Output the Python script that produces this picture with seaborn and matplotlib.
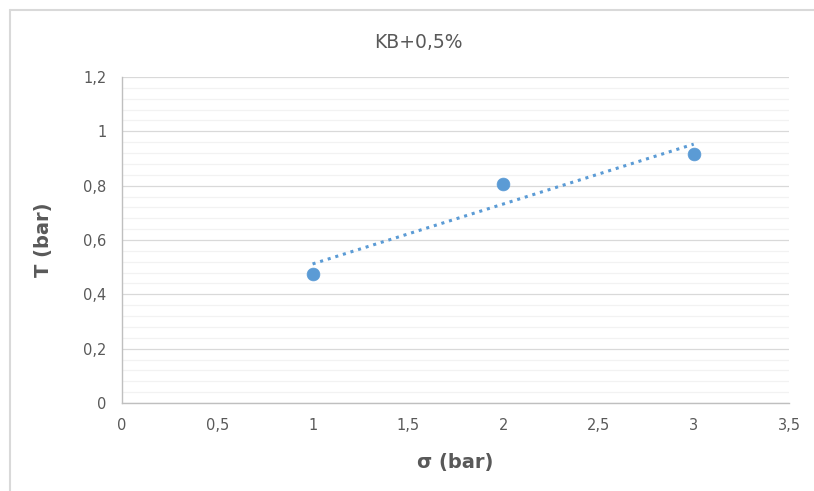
import numpy as np
import pandas as pd
import matplotlib
matplotlib.use("Agg")
import matplotlib.pyplot as plt
from matplotlib.lines import Line2D
import seaborn as sns
from matplotlib.ticker import MultipleLocator, FuncFormatter

sigma = [1, 2, 3]
tau = [0.475, 0.806, 0.916]
title = "KB+0,5%"
xlabel = "σ (bar)"
ylabel = "Τ (bar)"

sns.set_theme(style="white")
plt.rcParams['font.family'] = ['DejaVu Sans']

df = pd.DataFrame({"sigma": sigma, "tau": tau})

fig = plt.figure(figsize=(8.14, 4.91), dpi=100)
ax = fig.add_axes([122/814, 1-403/491, (789-122)/814, (403-77)/491])

# trendline (linear least squares)
slope, intercept = np.polyfit(df["sigma"], df["tau"], 1)
xs = np.array([min(sigma), max(sigma)])
ax.plot(xs, slope*xs + intercept, linestyle=(0, (1, 1.6)), color="#5b9bd5", lw=2.2, zorder=2)

sns.scatterplot(data=df, x="sigma", y="tau", ax=ax, s=85, color="#5b9bd5",
                edgecolor="#5b9bd5", linewidth=0.5, zorder=3)

ax.set_xlim(0, 3.5)
ax.set_ylim(0, 1.2)
ax.xaxis.set_major_locator(MultipleLocator(0.5))
ax.yaxis.set_major_locator(MultipleLocator(0.2))
ax.yaxis.set_minor_locator(MultipleLocator(0.04))
fmt = FuncFormatter(lambda v, p: ("%g" % round(v, 2)).replace(".", ","))
ax.xaxis.set_major_formatter(fmt)
ax.yaxis.set_major_formatter(fmt)

ax.grid(which="major", axis="y", color="#d9d9d9", lw=0.9, zorder=0)
ax.grid(which="minor", axis="y", color="#f2f2f2", lw=0.9, zorder=0)
ax.grid(which="major", axis="x", visible=False)
ax.set_axisbelow(True)

for s in ["top", "right"]:
    ax.spines[s].set_visible(False)
for s in ["left", "bottom"]:
    ax.spines[s].set_color("#bfbfbf")
    ax.spines[s].set_linewidth(1)

ax.tick_params(axis="both", which="major", direction="out", length=5, width=1,
               color="#bfbfbf", labelcolor="#595959", labelsize=10.5)
ax.tick_params(axis="y", which="minor", length=0)
ax.tick_params(axis="x", pad=6)
ax.tick_params(axis="y", pad=6)

ax.set_xlabel(xlabel, fontsize=14, fontweight="bold", color="#595959", labelpad=14)
ax.set_ylabel(ylabel, fontsize=14, fontweight="bold", color="#595959", labelpad=22)
fig.text(418/814, 1-42/491, title, ha="center", va="center", fontsize=13.5, color="#595959")

# chart border (left and top)
fig.add_artist(Line2D([10/814, 10/814], [0, 1-10/491], transform=fig.transFigure,
                      color="#d9d9d9", lw=1.5))
fig.add_artist(Line2D([10/814, 1], [1-10/491, 1-10/491], transform=fig.transFigure,
                      color="#d9d9d9", lw=1.5))

fig.savefig("out.png", dpi=100, facecolor="white")
